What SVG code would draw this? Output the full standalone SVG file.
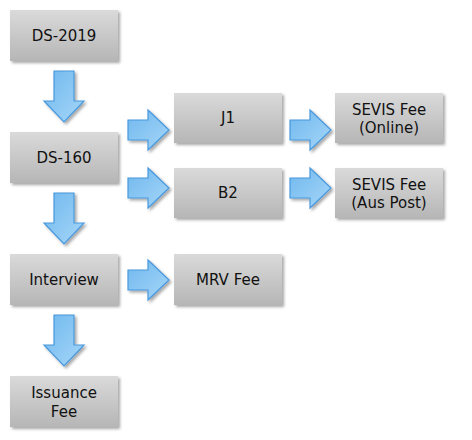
<svg xmlns="http://www.w3.org/2000/svg" width="472" height="440" viewBox="0 0 472 440">
<defs>
<linearGradient id="boxg" x1="0" y1="0" x2="0" y2="1">
<stop offset="0" stop-color="#dadada"/>
<stop offset="1" stop-color="#b6b6b6"/>
</linearGradient>
<linearGradient id="arrg" x1="0" y1="0" x2="1" y2="1">
<stop offset="0" stop-color="#6fb8ee"/>
<stop offset="1" stop-color="#a6d6f8"/>
</linearGradient>
<filter id="sh" x="-10%" y="-10%" width="130%" height="140%">
<feGaussianBlur in="SourceAlpha" stdDeviation="1.5"/>
<feOffset dx="2" dy="2" result="b"/>
<feComponentTransfer><feFuncA type="linear" slope="0.35"/></feComponentTransfer>
<feMerge><feMergeNode/><feMergeNode in="SourceGraphic"/></feMerge>
</filter>
<path id="down" d="M54,71 H74 V101 H84 L64,122 L44,101 H54 Z"/>
<path id="right" d="M128,120 H148 V110 L169,130 L148,150 V140 H128 Z"/>
</defs>
<style>
.box{fill:url(#boxg);filter:url(#sh)}
.t{font-family:"DejaVu Sans","Liberation Sans",sans-serif;font-size:15px;fill:#111;text-anchor:middle}
.arr{fill:url(#arrg);stroke:#4898dc;stroke-width:1.2;filter:url(#sh)}
</style>
<rect width="472" height="440" fill="#fff"/>
<g id="connectors">
<use href="#down" class="arr"/>
<use href="#down" class="arr" transform="translate(0,122)"/>
<use href="#down" class="arr" transform="translate(0,244)"/>
<use href="#right" class="arr"/>
<use href="#right" class="arr" transform="translate(0,58)"/>
<use href="#right" class="arr" transform="translate(162,0)"/>
<use href="#right" class="arr" transform="translate(162,58)"/>
<use href="#right" class="arr" transform="translate(0,150)"/>
</g>
<g id="ds2019"><rect class="box" x="10" y="10" width="108" height="51"/><text class="t" x="64" y="41">DS-2019</text></g>
<g id="ds160"><rect class="box" x="10" y="132" width="108" height="51"/><text class="t" x="64" y="163">DS-160</text></g>
<g id="interview"><rect class="box" x="10" y="254" width="108" height="51"/><text class="t" x="64" y="285">Interview</text></g>
<g id="issuance"><rect class="box" x="10" y="376" width="108" height="51"/><text class="t" x="64" y="398">Issuance</text><text class="t" x="64" y="417">Fee</text></g>
<g id="j1"><rect class="box" x="174" y="93" width="108" height="50"/><text class="t" x="228" y="123">J1</text></g>
<g id="b2"><rect class="box" x="174" y="168" width="108" height="50"/><text class="t" x="228" y="198">B2</text></g>
<g id="mrv"><rect class="box" x="174" y="254" width="108" height="51"/><text class="t" x="228" y="285">MRV Fee</text></g>
<g id="sevis1"><rect class="box" x="335" y="93" width="108" height="50"/><text class="t" x="389" y="115">SEVIS Fee</text><text class="t" x="389" y="133">(Online)</text></g>
<g id="sevis2"><rect class="box" x="335" y="168" width="108" height="50"/><text class="t" x="389" y="190">SEVIS Fee</text><text class="t" x="389" y="208">(Aus Post)</text></g>
</svg>
